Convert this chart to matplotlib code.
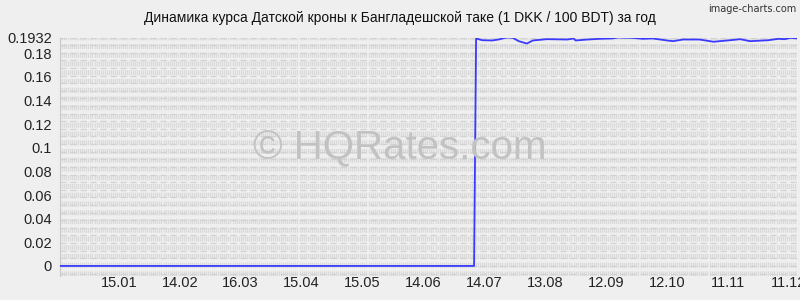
import numpy as np
import matplotlib
matplotlib.use('Agg')
import matplotlib.pyplot as plt
import matplotlib.dates as mdates

# Курс DKK/BDT (1 DKK / 100 BDT)
dates = ['2012-12-17', '2013-07-09', '2013-07-10', '2013-07-13', '2013-07-18', '2013-07-21',
         '2013-07-25', '2013-07-28', '2013-07-31', '2013-08-04', '2013-08-07', '2013-08-14',
         '2013-08-24', '2013-08-27', '2013-08-28', '2013-09-03', '2013-09-09', '2013-09-15',
         '2013-09-18', '2013-09-25', '2013-09-30', '2013-10-05', '2013-10-12', '2013-10-15',
         '2013-10-20', '2013-10-28', '2013-11-04', '2013-11-07', '2013-11-14', '2013-11-17',
         '2013-11-22', '2013-12-01', '2013-12-06', '2013-12-09', '2013-12-12', '2013-12-15']
values = [0.0, 0.0, 0.1924, 0.1909, 0.1907, 0.1915,
          0.1932, 0.1930, 0.1901, 0.1881, 0.1907, 0.1918,
          0.1915, 0.1924, 0.1907, 0.1915, 0.1921, 0.1924,
          0.1932, 0.1929, 0.1921, 0.1924, 0.1907, 0.1901,
          0.1915, 0.1915, 0.1896, 0.1901, 0.1912, 0.1918,
          0.1901, 0.1909, 0.1921, 0.1918, 0.1929, 0.1924]
tick_dates = ['2013-01-15', '2013-02-14', '2013-03-16', '2013-04-15', '2013-05-15', '2013-06-14',
              '2013-07-14', '2013-08-13', '2013-09-12', '2013-10-12', '2013-11-11', '2013-12-11']
y_ticks = [0, 0.02, 0.04, 0.06, 0.08, 0.1, 0.12, 0.14, 0.16, 0.18, 0.1932]
y_labels = ['0', '0.02', '0.04', '0.06', '0.08', '0.1', '0.12', '0.14', '0.16', '0.18', '0.1932']

plt.rcParams['font.family'] = ['Liberation Sans', 'DejaVu Sans']
bg = '#efefef'

x = np.array(dates, dtype='datetime64[D]')
xt = np.array(tick_dates, dtype='datetime64[D]')
x0 = np.datetime64('2012-12-17')
x1 = np.datetime64('2013-12-15')
ymax = 0.1932
ymin = -0.0085

fig = plt.figure(figsize=(8, 3), dpi=100, facecolor=bg)
ax = fig.add_axes([0.075, 0.08, 0.921, 0.795], facecolor=bg)

# сетка: по дню по вертикали, 30 шагов по горизонтали
days = np.arange(x0, x1 + np.timedelta64(1, 'D'))
ax.vlines(days, ymin, ymax, colors='#dadada', linewidth=0.9,
          linestyles=(0, (4, 3)), zorder=0)
hs = np.arange(-1, 31) * ymax / 30
ax.hlines(hs, x0, x1, colors='#d2d2d2', linewidth=0.9,
          linestyles=(0, (5, 3)), zorder=0)

fig.text(0.5, 0.505, '© HQRates.com', ha='center', va='center',
         fontsize=29, color='#c2c2c2', zorder=1)

ax.plot(x, values, color='#3a3aff', linewidth=1.3, zorder=3)

ax.set_xlim(x0, x1)
ax.set_ylim(ymin, ymax)
ax.set_xticks(xt)
ax.xaxis.set_major_formatter(mdates.DateFormatter('%d.%m'))
ax.set_yticks(y_ticks)
ax.set_yticklabels(y_labels)
ax.tick_params(length=0, labelsize=10.5, colors='#222222')
ax.tick_params(axis='x', pad=0)
ax.tick_params(axis='y', pad=6)
for s in ['top', 'right', 'bottom']:
    ax.spines[s].set_visible(False)
ax.spines['left'].set_color('#c8c8c8')

fig.text(0.5, 0.94, 'Динамика курса Датской кроны к Бангладешской таке (1 DKK / 100 BDT) за год',
         ha='center', va='center', fontsize=10, color='#111111')
fig.text(0.995, 0.985, 'image-charts.com', ha='right', va='top', fontsize=7,
         color='#333333', family=['Liberation Sans Narrow', 'DejaVu Sans'])

fig.savefig('out.png', dpi=100, facecolor=bg)
